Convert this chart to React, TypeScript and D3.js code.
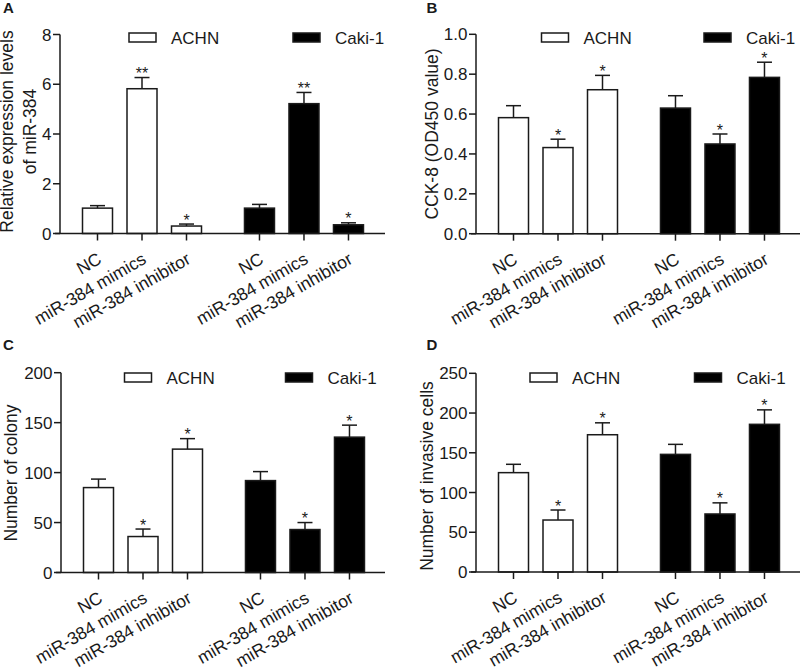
import React from "react";
import * as d3 from "d3";

const categories = ["NC", "miR-384 mimics", "miR-384 inhibitor"];
const groups = ["ACHN", "Caki-1"];

// Panel A: relative expression of miR-384
const exprACHN = [1.02, 5.82, 0.3];
const exprACHNErr = [0.1, 0.45, 0.08];
const exprCaki = [1.02, 5.22, 0.35];
const exprCakiErr = [0.15, 0.45, 0.08];
const exprStars = ["", "**", "*"];
const exprTicks = [0, 2, 4, 6, 8];

// Panel B: CCK-8
const cckACHN = [0.582, 0.432, 0.722];
const cckACHNErr = [0.06, 0.042, 0.072];
const cckCaki = [0.63, 0.45, 0.784];
const cckCakiErr = [0.062, 0.05, 0.076];
const cckStars = ["", "*", "*"];
const cckTicks = [0, 0.2, 0.4, 0.6, 0.8, 1.0];

// Panel C: colony number
const colACHN = [85, 36, 123.5];
const colACHNErr = [8.5, 7.5, 10.5];
const colCaki = [92, 43, 135.5];
const colCakiErr = [9, 7, 12];
const colStars = ["", "*", "*"];
const colTicks = [0, 50, 100, 150, 200];

// Panel D: invasive cells
const invACHN = [125, 65.4, 172.7];
const invACHNErr = [10.5, 12.6, 15];
const invCaki = [148, 73, 185.8];
const invCakiErr = [12.6, 14, 18.2];
const invStars = ["", "*", "*"];
const invTicks = [0, 50, 100, 150, 200, 250];

const FONT = "'Liberation Sans', Arial, Helvetica, sans-serif";
const INK = "#1a1a1a";

type PanelProps = {
  label: string;
  labelX: number;
  labelY: number;
  axisX: number;
  y0: number;
  yTop: number;
  yMax: number;
  ticks: number[];
  fmt: (v: number) => string;
  xEnd: number;
  titleLines: string[];
  titleX: number[];
  titleY: number;
  series: number[][];
  errors: number[][];
  stars: string[];
  legendX: number[];
  legendY: number;
};

function Panel(p: PanelProps) {
  const y = d3.scaleLinear().domain([0, p.yMax]).range([p.y0, p.yTop]);
  const x = d3
    .scaleLinear()
    .domain([0, 1])
    .range([p.axisX + 37.5, p.axisX + 37.5 + 44.5]);
  const groupOffset = 3.64;
  const bw = 30;
  const capW = 15;
  return (
    <g fontFamily={FONT}>
      <text x={p.labelX} y={p.labelY} fontSize={15} fontWeight="bold" fill={INK}>
        {p.label}
      </text>
      {/* y title */}
      {p.titleLines.map((t, i) => (
        <text
          key={i}
          transform={`translate(${p.titleX[i]},${p.titleY}) rotate(-90)`}
          textAnchor="middle"
          fontSize={17.5}
          fill={INK}
        >
          {t}
        </text>
      ))}
      {/* y axis */}
      <line x1={p.axisX} x2={p.axisX} y1={y(0)} y2={y(p.yMax)} stroke={INK} strokeWidth={1.5} />
      {p.ticks.map((t) => (
        <g key={t}>
          <line x1={p.axisX - 7} x2={p.axisX} y1={y(t)} y2={y(t)} stroke={INK} strokeWidth={1.5} />
          <text x={p.axisX - 8.5} y={y(t)} dy="0.36em" textAnchor="end" fontSize={17} fill={INK}>
            {p.fmt(t)}
          </text>
        </g>
      ))}
      {/* bars */}
      {p.series.map((vals, g) =>
        vals.map((v, i) => {
          const cx = x(i + g * groupOffset);
          const top = y(v);
          const et = y(v + p.errors[g][i]);
          return (
            <g key={`${g}-${i}`}>
              <line x1={cx} x2={cx} y1={top} y2={et} stroke={INK} strokeWidth={1.5} />
              <line x1={cx - capW / 2} x2={cx + capW / 2} y1={et} y2={et} stroke={INK} strokeWidth={1.5} />
              <rect
                x={cx - bw / 2}
                y={top}
                width={bw}
                height={y(0) - top}
                fill={g === 0 ? "#fff" : "#000"}
                stroke={INK}
                strokeWidth={1.5}
              />
              {p.stars[i] && (
                <text x={cx} y={et + 1.5} textAnchor="middle" fontSize={16} fill={INK}>
                  {p.stars[i]}
                </text>
              )}
            </g>
          );
        })
      )}
      {/* x axis */}
      <line x1={p.axisX - 5} x2={p.xEnd} y1={y(0)} y2={y(0)} stroke={INK} strokeWidth={1.5} />
      {groups.map((_, g) =>
        categories.map((c, i) => {
          const cx = x(i + g * groupOffset);
          return (
            <g key={`t${g}-${i}`}>
              <line x1={cx} x2={cx} y1={y(0)} y2={y(0) + 7} stroke={INK} strokeWidth={1.5} />
              <text
                transform={`translate(${cx - 1},${y(0) + 18}) rotate(-30)`}
                dy="0.72em"
                textAnchor="end"
                fontSize={17.5}
                fill={INK}
              >
                {c}
              </text>
            </g>
          );
        })
      )}
      {/* legend */}
      {groups.map((gname, g) => (
        <g key={gname}>
          <rect
            x={p.legendX[g]}
            y={p.legendY - 4.5}
            width={27}
            height={9}
            fill={g === 0 ? "#fff" : "#000"}
            stroke={INK}
            strokeWidth={1.5}
          />
          <text x={p.legendX[g] + 42} y={p.legendY + 6.2} fontSize={17} fill={INK}>
            {gname}
          </text>
        </g>
      ))}
    </g>
  );
}

export default function App() {
  const f0 = d3.format("d");
  const f1 = d3.format(".1f");
  return (
    <svg
      width={800}
      height={669}
      style={{ position: "absolute", left: 0, top: 0, display: "block", background: "#fff" }}
    >
      <rect width={800} height={669} fill="#fff" />
      <Panel
        label="A"
        labelX={3}
        labelY={13}
        axisX={60}
        y0={233.5}
        yTop={34.5}
        yMax={8}
        ticks={exprTicks}
        fmt={f0}
        xEnd={385}
        titleLines={["Relative expression levels", "of miR-384"]}
        titleX={[13, 36]}
        titleY={131.5}
        series={[exprACHN, exprCaki]}
        errors={[exprACHNErr, exprCakiErr]}
        stars={exprStars}
        legendX={[129, 293]}
        legendY={37.5}
      />
      <Panel
        label="B"
        labelX={426.5}
        labelY={12.5}
        axisX={476}
        y0={233.7}
        yTop={34.3}
        yMax={1.0}
        ticks={cckTicks}
        fmt={f1}
        xEnd={800}
        titleLines={["CCK-8 (OD450 value)"]}
        titleX={[438]}
        titleY={134}
        series={[cckACHN, cckCaki]}
        errors={[cckACHNErr, cckCakiErr]}
        stars={cckStars}
        legendX={[541.5, 704]}
        legendY={37.5}
      />
      <Panel
        label="C"
        labelX={3}
        labelY={350}
        axisX={61}
        y0={572.5}
        yTop={372.7}
        yMax={200}
        ticks={colTicks}
        fmt={f0}
        xEnd={385}
        titleLines={["Number of colony"]}
        titleX={[16.5]}
        titleY={473}
        series={[colACHN, colCaki]}
        errors={[colACHNErr, colCakiErr]}
        stars={colStars}
        legendX={[124.5, 285.5]}
        legendY={377.5}
      />
      <Panel
        label="D"
        labelX={426.5}
        labelY={350}
        axisX={476}
        y0={572}
        yTop={373.3}
        yMax={250}
        ticks={invTicks}
        fmt={f0}
        xEnd={800}
        titleLines={["Number of invasive cells"]}
        titleX={[432.5]}
        titleY={476}
        series={[invACHN, invCaki]}
        errors={[invACHNErr, invCakiErr]}
        stars={invStars}
        legendX={[530, 694.5]}
        legendY={377.5}
      />
    </svg>
  );
}
